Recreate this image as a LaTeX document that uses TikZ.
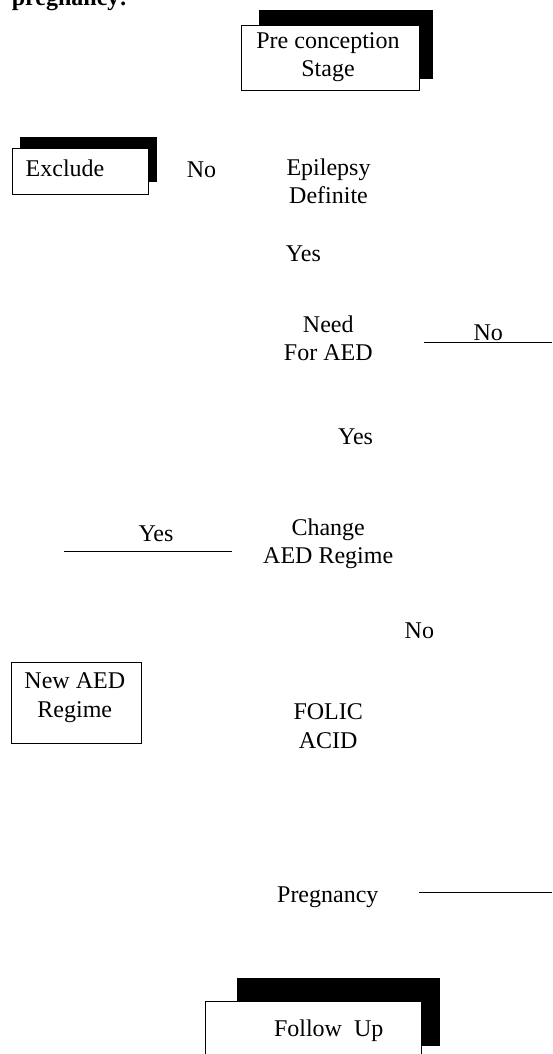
\documentclass[tikz,border=0pt]{standalone}
\usepackage{fontspec}
\setmainfont{Liberation Serif}

\begin{document}
\begin{tikzpicture}[x=1pt,y=1pt,yscale=-1,xscale=1,
  every node/.style={font=\fontsize{24}{28.5}\selectfont, align=center, inner sep=0pt},
  shadowfill/.style={fill=black, draw=black, line width=0.6pt},
  boxframe/.style={draw=black, fill=white, line width=1pt},
  flowline/.style={line width=1pt}]
\useasboundingbox (0,0) rectangle (552,1054);

% Text Node (caption, cut at the top)
\draw (11.7,6) node (capt) [anchor=base west, font=\fontsize{24}{28.5}\selectfont\bfseries] {pregnancy:};

%Shape: Rectangle [pre conception]
\draw [shadowfill] (258.8,10) rectangle (432.4,78.3) ;
\draw [boxframe] (241.5,26) rectangle (419.4,91) ;
% Text Node
\draw (328,57) node (pre) {Pre conception\\Stage};

%Shape: Rectangle [exclude]
\draw [shadowfill] (20.4,137.7) rectangle (156.7,181) ;
\draw [boxframe] (12.3,148.3) rectangle (148.2,194.7) ;
% Text Node
\draw (65,168) node (excl) {Exclude};
% Text Node
\draw (201.5,170) node (noexcl) {No};
% Text Node
\draw (328.5,181.5) node (epil) {Epilepsy\\Definite};
% Text Node
\draw (303.4,254) node (yesepil) {Yes};

% Text Node
\draw (328.3,338.5) node (need) {Need\\For AED};
%Straight Lines [need - no]
\coordinate (neednoA) at (424,342.7);
\coordinate (neednoB) at (552,342.7);
\draw [flowline] (neednoA) -- (neednoB) ;
% Text Node
\draw (488.3,332.5) node (noneed) {No};
% Text Node
\draw (355.6,437) node (yesneed) {Yes};

% Text Node
\draw (328.2,544) node (chg) {Change\\AED Regime};
%Straight Lines [change - yes]
\coordinate (chgyesA) at (64.3,551);
\coordinate (chgyesB) at (232.3,551);
\draw [flowline] (chgyesA) -- (chgyesB) ;
% Text Node
\draw (156,534) node (yeschg) {Yes};
% Text Node
\draw (419.4,631) node (nochg) {No};

%Shape: Rectangle [new regime]
\draw [boxframe] (11.7,662.3) rectangle (141,743) ;
% Text Node
\draw (74.8,697.5) node (newaed) {New AED\\Regime};
% Text Node
\draw (328.2,726) node (folic) {FOLIC\\ACID};

% Text Node
\draw (327.8,897.5) node (preg) {Pregnancy};
%Straight Lines [pregnancy]
\coordinate (pregA) at (419.3,892.3);
\coordinate (pregB) at (552,892.3);
\draw [flowline] (pregA) -- (pregB) ;

%Shape: Rectangle [follow up]
\draw [shadowfill] (237.5,978) rectangle (439.4,1045) ;
\draw [boxframe] (205.5,1001.5) rectangle (421,1070) ;
% Text Node
\draw (328.7,1031) node (follow) {Follow~ Up};

\end{tikzpicture}
\end{document}
